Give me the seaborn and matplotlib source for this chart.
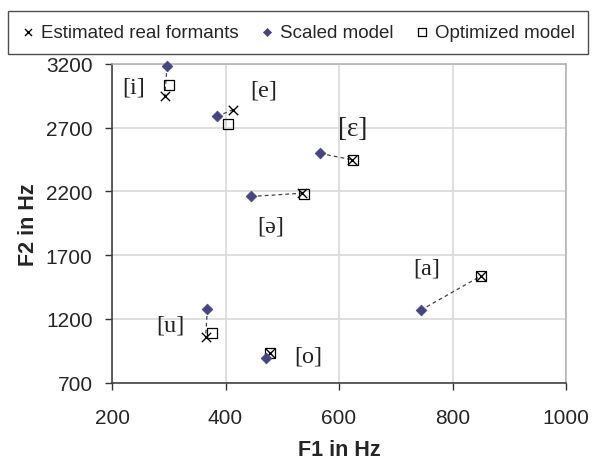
import pandas as pd
import matplotlib
matplotlib.use("Agg")
import matplotlib.pyplot as plt
import seaborn as sns

# vowel formant data (Hz)
vowels = ["i", "e", "ɛ", "ə", "a", "u", "o"]
est_f1 = [293, 413, 623, 535, 850, 365, 478]
est_f2 = [2951, 2841, 2448, 2186, 1536, 1059, 928]
scaled_f1 = [297, 385, 567, 445, 744, 368, 472]
scaled_f2 = [3182, 2789, 2498, 2160, 1268, 1276, 889]
opt_f1 = [301, 404, 624, 538, 850, 377, 479]
opt_f2 = [3032, 2726, 2449, 2178, 1536, 1085, 928]

# label positions for the vowel symbols
label_f1 = [238, 468, 624, 479, 754, 302, 545]
label_f2 = [3019, 2992, 2697, 1926, 1596, 1150, 908]

x_ticks = [200, 400, 600, 800, 1000]
y_ticks = [700, 1200, 1700, 2200, 2700, 3200]

sns.set_theme(style="white")
plt.rcParams["font.family"] = ["Liberation Sans", "DejaVu Sans"]

est = pd.DataFrame({"vowel": vowels, "F1": est_f1, "F2": est_f2})
scaled = pd.DataFrame({"vowel": vowels, "F1": scaled_f1, "F2": scaled_f2})
opt = pd.DataFrame({"vowel": vowels, "F1": opt_f1, "F2": opt_f2})
pairs = pd.concat([scaled, est], ignore_index=True)

fig = plt.figure(figsize=(5.92, 4.60), dpi=100)
ax = fig.add_axes([0.1892, 0.1663, 0.767, 0.6924])

# dashed connectors scaled -> estimated
sns.lineplot(data=pairs, x="F1", y="F2", units="vowel", estimator=None,
             sort=False, color="#444444", lw=0.9, linestyle=(0, (3, 2.5)),
             ax=ax, legend=False)

sns.scatterplot(data=est, x="F1", y="F2", marker="x", s=45, color="black",
                linewidth=1.0, ax=ax, label="Estimated real formants",
                zorder=4, clip_on=False)
sns.scatterplot(data=scaled, x="F1", y="F2", marker="D", s=30, color="#46467f",
                edgecolor="#46467f", linewidth=0.5, ax=ax, label="Scaled model",
                zorder=5, clip_on=False)
sns.scatterplot(data=opt, x="F1", y="F2", marker="s", s=52, facecolor="none",
                edgecolor="black", linewidth=0.9, ax=ax, label="Optimized model",
                zorder=4, clip_on=False)

for v, lx, ly in zip(vowels, label_f1, label_f2):
    size = 19.5 if v == "ɛ" else 17.5
    ax.text(lx, ly, f"[{v}]", ha="center", va="center", fontsize=size,
            family=["Liberation Serif", "DejaVu Serif"], color="#222222")

ax.set_xlim(200, 1000)
ax.set_ylim(700, 3200)
ax.set_xticks(x_ticks)
ax.set_yticks(y_ticks)
ax.tick_params(axis="both", labelsize=15, direction="out", length=5,
               width=1, color="#333333", left=True, bottom=True)
ax.tick_params(axis="x", pad=13)
ax.tick_params(axis="y", pad=9)
ax.grid(True, color="#d9d9d9", lw=1.2)
ax.set_axisbelow(True)
for side in ["left", "bottom"]:
    ax.spines[side].set_color("#333333")
    ax.spines[side].set_linewidth(1.1)
for side in ["top", "right"]:
    ax.spines[side].set_color("#b0b0b0")
    ax.spines[side].set_linewidth(1.1)

ax.set_xlabel("F1 in Hz", fontsize=15.5, fontweight="bold", labelpad=9)
ax.set_ylabel("F2 in Hz", fontsize=15.5, fontweight="bold", labelpad=5)

handles, labels = ax.get_legend_handles_labels()
ax.legend_.remove()
leg = fig.legend(handles, labels, loc="center", bbox_to_anchor=(0.503, 0.927),
                 ncol=3, fontsize=13.5, frameon=True, fancybox=False,
                 edgecolor="#222222", handletextpad=0.3, columnspacing=1.1,
                 handlelength=0.8, borderpad=0.7, markerscale=0.75)
leg.get_frame().set_linewidth(1.0)

fig.savefig("out.png", dpi=100)
